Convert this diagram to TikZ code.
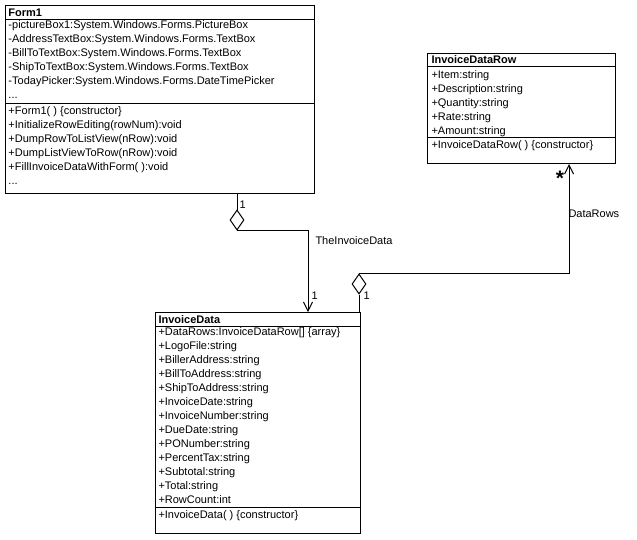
\documentclass[tikz,border=0pt]{standalone}
\usepackage{fontspec}
\setmainfont{Liberation Sans}
\usetikzlibrary{arrows.meta,shapes.geometric}
\begin{document}
\begin{tikzpicture}[x=1pt,y=-1pt, line width=1pt,
  classbox/.style={draw, rectangle, inner sep=0pt, anchor=north west},
  member/.style={anchor=base west, inner sep=0pt, font=\fontsize{11}{13}\selectfont},
  ctitle/.style={member, font=\fontsize{11}{13}\selectfont\bfseries},
  agg/.style={draw, diamond, inner sep=0pt, minimum width=14pt, minimum height=20pt, fill=white},
  assoc/.style={-{Straight Barb[length=9pt,width=9pt]}},
  mult/.style={anchor=north, inner sep=0pt, font=\fontsize{21}{21}\selectfont\bfseries}]
\useasboundingbox (0,0) rectangle (637,539);

% ---------- Form1
\node[classbox, minimum width=309pt, minimum height=188pt] (form1) at (5,5) {};
\draw ([yshift=-14pt]form1.north west) -- ([yshift=-14pt]form1.north east);
\draw ([yshift=-98pt]form1.north west) -- ([yshift=-98pt]form1.north east);
\node[ctitle] (f1t) at (8,16) {Form1};
\node[member] (f1a1) at (8,28.5) {-pictureBox1:System.Windows.Forms.PictureBox};
\node[member] (f1a2) at (8,42.5) {-AddressTextBox:System.Windows.Forms.TextBox};
\node[member] (f1a3) at (8,56.5) {-BillToTextBox:System.Windows.Forms.TextBox};
\node[member] (f1a4) at (8,70.5) {-ShipToTextBox:System.Windows.Forms.TextBox};
\node[member] (f1a5) at (8,84.5) {-TodayPicker:System.Windows.Forms.DateTimePicker};
\node[member] (f1a6) at (8,98.5) {...};
\node[member] (f1m1) at (8,114) {+Form1( ) \{constructor\}};
\node[member] (f1m2) at (8,128) {+InitializeRowEditing(rowNum):void};
\node[member] (f1m3) at (8,142) {+DumpRowToListView(nRow):void};
\node[member] (f1m4) at (8,156) {+DumpListViewToRow(nRow):void};
\node[member] (f1m5) at (8,170) {+FillInvoiceDataWithForm( ):void};
\node[member] (f1m6) at (8,184) {...};

% ---------- InvoiceDataRow
\node[classbox, minimum width=188pt, minimum height=110pt] (idr) at (427,53) {};
\draw ([yshift=-13.5pt]idr.north west) -- ([yshift=-13.5pt]idr.north east);
\draw ([yshift=-84.5pt]idr.north west) -- ([yshift=-84.5pt]idr.north east);
\node[ctitle] (idrt) at (431,63.5) {InvoiceDataRow};
\node[member] (idra1) at (431,78.5) {+Item:string};
\node[member] (idra2) at (431,92.5) {+Description:string};
\node[member] (idra3) at (431,106.5) {+Quantity:string};
\node[member] (idra4) at (431,120.5) {+Rate:string};
\node[member] (idra5) at (431,134.5) {+Amount:string};
\node[member] (idrm1) at (431,148.5) {+InvoiceDataRow( ) \{constructor\}};

% ---------- InvoiceData
\node[classbox, minimum width=205pt, minimum height=221pt] (invdata) at (155,312) {};
\draw ([yshift=-14pt]invdata.north west) -- ([yshift=-14pt]invdata.north east);
\draw ([yshift=-195pt]invdata.north west) -- ([yshift=-195pt]invdata.north east);
\node[ctitle] (idt) at (158,323) {InvoiceData};
\node[member] (ida1) at (158,335.5) {+DataRows:InvoiceDataRow[] \{array\}};
\node[member] (ida2) at (158,349.5) {+LogoFile:string};
\node[member] (ida3) at (158,363.5) {+BillerAddress:string};
\node[member] (ida4) at (158,377.5) {+BillToAddress:string};
\node[member] (ida5) at (158,391.5) {+ShipToAddress:string};
\node[member] (ida6) at (158,405.5) {+InvoiceDate:string};
\node[member] (ida7) at (158,419.5) {+InvoiceNumber:string};
\node[member] (ida8) at (158,433.5) {+DueDate:string};
\node[member] (ida9) at (158,447.5) {+PONumber:string};
\node[member] (ida10) at (158,461.5) {+PercentTax:string};
\node[member] (ida11) at (158,475.5) {+Subtotal:string};
\node[member] (ida12) at (158,489.5) {+Total:string};
\node[member] (ida13) at (158,503.5) {+RowCount:int};
\node[member] (idm1) at (158,518.5) {+InvoiceData( ) \{constructor\}};

% ---------- Form1 -> InvoiceData (TheInvoiceData)
\node[agg] (agg1) at (237,220) {};
\coordinate (t1) at (308,0);
\draw (form1.south -| agg1.north) -- (agg1.north);
\draw[assoc] (agg1.south) -| (t1 |- invdata.north);
\node[member] (l1a) at (239,208) {1};
\node[member] (l1b) at (315,244) {TheInvoiceData};
\node[member] (l1c) at (311,299) {1};

% ---------- InvoiceData -> InvoiceDataRow (DataRows)
\node[agg] (agg2) at (359,284) {};
\coordinate (t2) at (569,0);
\draw (agg2.south) -- (agg2.south |- invdata.north);
\draw[assoc] (agg2.north) -| (t2 |- idr.south);
\node[member] (l2a) at (363,299) {1};
\node[member] (l2b) at (568,217) {DataRows};
\node[mult] (l2c) at (560,170.5) {*};
\end{tikzpicture}
\end{document}
